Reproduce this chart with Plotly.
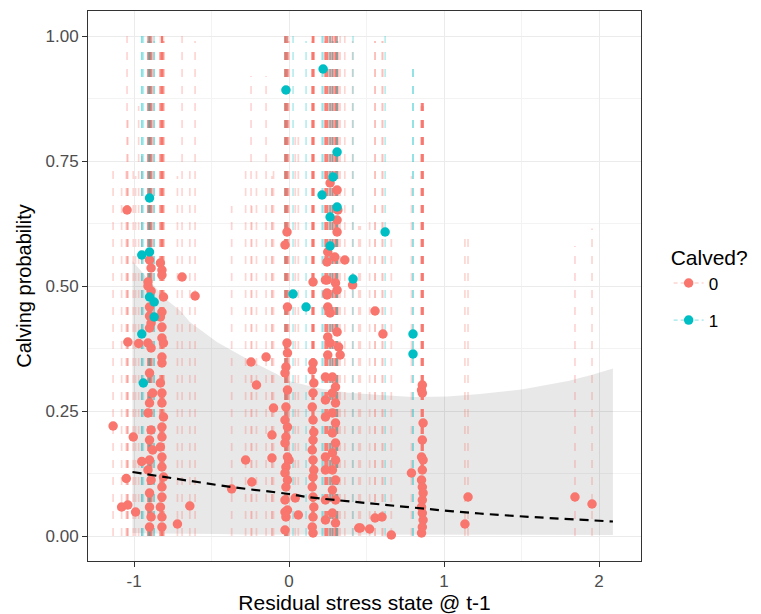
import plotly.graph_objects as go

# ---------------- data ----------------
# calved = 0 (red)
red_x = [-1.135, -1.045, -1.04, -1.005, -1.05, -1.08, -1.04, -0.99, -0.97, -0.95,
         -0.90, -0.89, -0.91, -0.90, -0.89, -0.90, -0.91, -0.89, -0.90, -0.88, -0.90, -0.91,
         -0.89, -0.90, -0.88, -0.90, -0.91, -0.89, -0.90, -0.90, -0.89, -0.90, -0.91, -0.89, -0.90,
         -0.83, -0.82, -0.82, -0.81, -0.82, -0.83, -0.82, -0.82, -0.81, -0.82, -0.82, -0.83,
         -0.82, -0.82, -0.81, -0.82, -0.82, -0.83, -0.82, -0.82, -0.81, -0.82, -0.82, -0.83,
         -0.82, -0.82,
         -0.69, -0.606, -0.64, -0.72,
         -0.245, -0.148, -0.21, -0.10, -0.11, -0.28, -0.11, -0.24, -0.37,
         -0.013, -0.026, -0.01, -0.013, -0.01, -0.02, -0.026, -0.01, -0.02, -0.026, -0.01, -0.02,
         -0.026, -0.01, 0.0, -0.02, -0.026, -0.01, -0.02, -0.026, -0.01, -0.02, -0.026,
         0.04, 0.06, -0.026,
         0.155, 0.155, 0.15, 0.16, 0.155, 0.15, 0.155, 0.16, 0.155, 0.15, 0.155, 0.16, 0.155,
         0.15, 0.155, 0.16, 0.155, 0.15, 0.155, 0.245, 0.245,
         0.265, 0.31, 0.315, 0.31, 0.31, 0.25, 0.295, 0.245, 0.235, 0.30, 0.245, 0.31, 0.25,
         0.265, 0.31, 0.25, 0.265, 0.32, 0.25, 0.33, 0.28, 0.30, 0.28, 0.30, 0.28, 0.30, 0.28,
         0.30, 0.28, 0.30, 0.28, 0.30, 0.28, 0.30, 0.28, 0.30,
         0.235, 0.235, 0.235, 0.235, 0.235, 0.235, 0.235,
         0.36, 0.41,
         0.45, 0.46, 0.52, 0.555, 0.60, 0.66, 0.555, 0.606,
         0.86, 0.855, 0.86, 0.865, 0.86, 0.855, 0.865, 0.86, 0.855, 0.86, 0.865, 0.86, 0.855,
         0.86, 0.865, 0.86, 0.855, 0.79,
         1.155, 1.135, 1.845, 1.955]
red_p = [0.22, 0.652, 0.388, 0.198, 0.115, 0.058, 0.062, 0.048, 0.385, 0.149,
         0.552, 0.536, 0.508, 0.458, 0.426, 0.416, 0.386, 0.376, 0.326, 0.286, 0.266, 0.246,
         0.212, 0.192, 0.172, 0.152, 0.132, 0.112, 0.086, 0.058, 0.038, 0.018, 0.50, 0.49, 0.44,
         0.546, 0.532, 0.522, 0.478, 0.448, 0.438, 0.418, 0.396, 0.386, 0.358, 0.346, 0.306,
         0.286, 0.266, 0.238, 0.218, 0.198, 0.178, 0.158, 0.138, 0.118, 0.098, 0.078, 0.058,
         0.038, 0.018,
         0.518, 0.48, 0.06, 0.024,
         0.348, 0.358, 0.302, 0.256, 0.202, 0.152, 0.156, 0.108, 0.094,
         0.608, 0.582, 0.458, 0.386, 0.366, 0.338, 0.326, 0.292, 0.258, 0.232, 0.218, 0.198,
         0.186, 0.158, 0.152, 0.138, 0.126, 0.112, 0.098, 0.072, 0.052, 0.038, 0.012,
         0.076, 0.042, 0.048,
         0.508, 0.346, 0.332, 0.306, 0.286, 0.258, 0.232, 0.208, 0.192, 0.172, 0.152, 0.132, 0.118,
         0.098, 0.078, 0.058, 0.038, 0.018, 0.006, 0.482, 0.512,
         0.706, 0.692, 0.652, 0.632, 0.608, 0.568, 0.558, 0.548, 0.512, 0.506, 0.486, 0.492, 0.458,
         0.446, 0.408, 0.398, 0.386, 0.378, 0.362, 0.362, 0.318, 0.298, 0.286, 0.266, 0.246, 0.226,
         0.206, 0.186, 0.166, 0.152, 0.132, 0.112, 0.092, 0.072, 0.046, 0.026,
         0.318, 0.272, 0.238, 0.158, 0.132, 0.072, 0.032,
         0.552, 0.502,
         0.016, 0.016, 0.014, 0.036, 0.038, 0.002, 0.45, 0.404,
         0.302, 0.292, 0.286, 0.226, 0.192, 0.158, 0.152, 0.132, 0.112, 0.098, 0.086, 0.072, 0.058,
         0.046, 0.032, 0.018, 0.006, 0.126,
         0.078, 0.024, 0.078, 0.064]
red_hi = [0.73, 1.0, 0.85, 0.74, 0.74, 0.70, 0.70, 0.72, 0.86, 0.76,
          1.0, 1.0, 0.99, 1.0, 1.0, 0.99, 1.0, 1.0, 0.98, 1.0, 1.0, 0.99,
          1.0, 1.0, 0.98, 1.0, 1.0, 0.99, 1.0, 1.0, 0.98, 1.0, 1.0, 0.99, 1.0,
          1.0, 1.0, 0.99, 1.0, 1.0, 0.98, 1.0, 1.0, 0.99, 1.0, 1.0, 0.98,
          1.0, 1.0, 0.99, 1.0, 1.0, 0.98, 1.0, 1.0, 0.99, 1.0, 1.0, 0.98,
          1.0, 1.0,
          1.0, 0.99, 0.73, 0.72,
          0.92, 0.92, 0.74, 0.73, 0.72, 0.73, 0.70, 0.66, 0.66,
          1.0, 1.0, 0.99, 1.0, 1.0, 0.98, 1.0, 1.0, 0.99, 1.0, 1.0, 0.98,
          1.0, 1.0, 0.99, 1.0, 1.0, 0.98, 1.0, 1.0, 0.99, 1.0, 1.0,
          0.80, 0.80, 1.0,
          1.0, 1.0, 0.99, 1.0, 1.0, 0.98, 1.0, 1.0, 0.99, 1.0, 1.0, 0.98, 1.0,
          1.0, 0.99, 1.0, 1.0, 0.98, 1.0, 1.0, 1.0,
          1.0, 1.0, 0.99, 1.0, 1.0, 0.98, 1.0, 1.0, 0.99, 1.0, 1.0, 0.98, 1.0,
          1.0, 0.99, 1.0, 1.0, 0.98, 1.0, 1.0, 0.99, 1.0, 1.0, 0.98, 1.0, 1.0,
          0.99, 1.0, 1.0, 0.98, 1.0, 1.0, 0.99, 1.0, 1.0, 0.98,
          1.0, 1.0, 0.99, 1.0, 1.0, 0.98, 1.0,
          1.0, 0.99,
          0.62, 0.62, 0.64, 0.99, 0.99, 0.60, 0.99, 0.99,
          0.87, 0.87, 0.86, 0.87, 0.87, 0.86, 0.87, 0.87, 0.86, 0.87, 0.87, 0.86, 0.87,
          0.87, 0.86, 0.87, 0.87, 0.72,
          0.61, 0.60, 0.58, 0.615]

# calved = 1 (teal)
teal_x = [-0.90, -0.95, -0.90, -0.90, -0.87, -0.87, -0.95, -0.94,
          -0.02, 0.026, 0.11, 0.22, 0.31, 0.284, 0.213, 0.265, 0.31, 0.265, 0.413, 0.62, 0.80, 0.80]
teal_p = [0.676, 0.562, 0.568, 0.478, 0.468, 0.438, 0.404, 0.306,
          0.892, 0.484, 0.458, 0.934, 0.768, 0.718, 0.682, 0.638, 0.658, 0.58, 0.514, 0.608, 0.404, 0.364]
teal_hi = [1.0, 1.0, 0.99, 1.0, 1.0, 0.99, 1.0, 1.0,
           1.0, 1.0, 0.99, 1.0, 1.0, 0.99, 1.0, 1.0, 0.99, 1.0, 1.0, 1.0, 0.94, 0.94]
lo_val = 0.0

# fitted trend + confidence band
fit_x = [-1.01, -0.37, 0.0, 0.12, 0.5, 1.23, 2.09]
fit_p = [0.128, 0.098, 0.084, 0.078, 0.066, 0.045, 0.029]
band_x = [-1.01, -0.9, -0.8, -0.7, -0.64, -0.465, -0.27, -0.08, 0.0, 0.2, 0.37, 0.59, 0.8,
          1.02, 1.23, 1.5, 1.8, 1.95, 2.09]
band_hi = [0.55, 0.51, 0.475, 0.45, 0.428, 0.388, 0.354, 0.324, 0.31, 0.295, 0.287, 0.282,
           0.278, 0.279, 0.284, 0.293, 0.31, 0.322, 0.335]
band_lo = [0.006, 0.005, 0.005, 0.004, 0.004, 0.004, 0.003, 0.003, 0.003, 0.003, 0.003, 0.003,
           0.003, 0.003, 0.002, 0.002, 0.002, 0.002, 0.002]

RED = "#F8766D"
TEAL = "#00BFC4"
RED_L = "rgba(248,118,109,0.3)"
TEAL_L = "rgba(0,191,196,0.28)"
FONT = "Liberation Sans, Arial, sans-serif"

fig = go.Figure()

# confidence band
fig.add_trace(go.Scatter(
    x=band_x + band_x[::-1], y=band_hi + band_lo[::-1],
    fill="toself", fillcolor="rgba(0,0,0,0.09)", line=dict(width=0),
    mode="lines", showlegend=False, hoverinfo="skip"))

# dashed intervals, one per observation
for xs, his, col in ((red_x, red_hi, RED_L), (teal_x, teal_hi, TEAL_L)):
    for xv, hv in zip(xs, his):
        fig.add_trace(go.Scatter(
            x=[xv, xv], y=[lo_val, hv], mode="lines",
            line=dict(color=col, width=1.7, dash="8px,9px"),
            showlegend=False, hoverinfo="skip"))

# points
fig.add_trace(go.Scatter(x=red_x, y=red_p, mode="markers",
                         marker=dict(color=RED, size=9.5, line=dict(width=0)),
                         showlegend=False))
fig.add_trace(go.Scatter(x=teal_x, y=teal_p, mode="markers",
                         marker=dict(color=TEAL, size=9.5, line=dict(width=0)),
                         showlegend=False))

# trend line
fig.add_trace(go.Scatter(x=fit_x, y=fit_p, mode="lines",
                         line=dict(color="black", width=2.2, dash="9px,6px", shape="spline"),
                         showlegend=False, hoverinfo="skip"))

# legend entries
for name, col, lcol in (("0", RED, RED_L), ("1", TEAL, TEAL_L)):
    fig.add_trace(go.Scatter(x=[None], y=[None], mode="lines+markers", name=name,
                             legendgroup=name,
                             marker=dict(color=col, size=9.5),
                             line=dict(color=lcol, width=1.6, dash="4px,3px")))

axis_common = dict(
    showline=True, linecolor="#333333", linewidth=1, mirror=True,
    ticks="outside", ticklen=5, tickcolor="#333333", tickwidth=1,
    gridcolor="#ebebeb", gridwidth=1.1, zeroline=False, automargin=False,
    tickfont=dict(family=FONT, size=17, color="#4d4d4d"),
)
fig.update_xaxes(range=[-1.297, 2.271], tickvals=[-1, 0, 1, 2], ticktext=["-1", "0", "1", "2"],
                 minor=dict(tickvals=[-0.5, 0.5, 1.5], showgrid=True, gridcolor="#f3f3f3", gridwidth=0.6, ticks=""),
                 title=dict(text="Residual stress state @ t-1", font=dict(family=FONT, size=21, color="black"), standoff=9),
                 **axis_common)
fig.update_yaxes(range=[-0.05, 1.05], tickvals=[0, 0.25, 0.5, 0.75, 1.0],
                 ticktext=["0.00", "0.25", "0.50", "0.75", "1.00"],
                 minor=dict(tickvals=[0.125, 0.375, 0.625, 0.875], showgrid=True, gridcolor="#f3f3f3", gridwidth=0.6, ticks=""),
                 title=dict(text="Calving probability", font=dict(family=FONT, size=20, color="black"), standoff=8),
                 **axis_common)

# the page body has an 8px margin on the top/left, so the figure is 8px smaller than the window
fig.update_layout(
    width=753, height=606,
    margin=dict(l=80, r=120, t=3, b=53),
    plot_bgcolor="white", paper_bgcolor="white",
    showlegend=True,
    legend=dict(x=1.05, y=0.587, xanchor="left", yanchor="top",
                title=dict(text="Calved?", font=dict(family=FONT, size=21, color="black")),
                font=dict(family=FONT, size=17, color="black"),
                tracegroupgap=12, itemwidth=30, bgcolor="rgba(0,0,0,0)"),
)

fig.write_html("out.html")
